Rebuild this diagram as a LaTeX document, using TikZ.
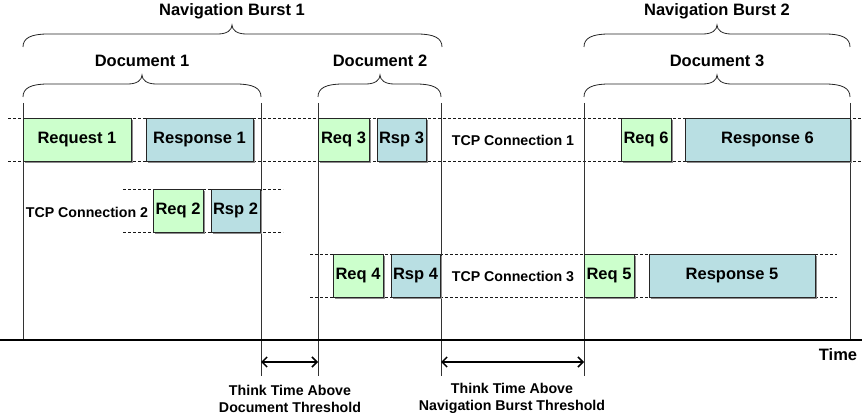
\documentclass[tikz,border=0pt]{standalone}
\usepackage{fontspec}
\setmainfont{Liberation Sans}
\usetikzlibrary{shadows,arrows.meta}

\definecolor{reqfill}{HTML}{CCFFCC}
\definecolor{rspfill}{HTML}{B9DFE3}

\tikzset{
  box/.style={draw=black!85, line width=0.8pt, inner sep=0pt, minimum height=43pt,
    font=\fontsize{16.5}{18}\selectfont\bfseries,
    drop shadow={shadow xshift=2pt, shadow yshift=-2pt, fill=black!45, opacity=1}},
  reqbox/.style={box, fill=reqfill},
  rspbox/.style={box, fill=rspfill},
  bigtext/.style={font=\fontsize{16.5}{18}\selectfont\bfseries, inner sep=0pt},
  smalltext/.style={font=\fontsize{14.2}{17}\selectfont\bfseries, inner sep=0pt, align=center},
  conn/.style={dashed, dash pattern=on 3pt off 2pt, line width=0.9pt, black!90},
  boundary/.style={line width=0.7pt, black!80},
  gap/.style={line width=1.5pt, {Straight Barb[length=5pt,width=10pt]}-{Straight Barb[length=5pt,width=10pt]}},
  curly/.style={line width=0.8pt, black!85}
}

% horizontal curly brace: left x, right x, tip x, y of the ends
\newcommand{\hbrace}[4]{%
  \draw[curly] (#1,#4) .. controls (#1,#4-9) and (#1+8,#4-13) .. (#1+25,#4-13)
    -- (#3-14,#4-13) .. controls (#3-5,#4-13) and (#3,#4-17) .. (#3,#4-22)
    .. controls (#3,#4-17) and (#3+5,#4-13) .. (#3+14,#4-13)
    -- (#2-25,#4-13) .. controls (#2-8,#4-13) and (#2,#4-9) .. (#2,#4);}

\begin{document}
\begin{tikzpicture}[x=1pt,y=-1pt]
\useasboundingbox (0,0) rectangle (862,419);

% brace headings
\node[bigtext] (nb1) at (232,11) {Navigation Burst 1};
\node[bigtext] (nb2) at (717,11) {Navigation Burst 2};
\node[bigtext] (d1) at (142,61) {Document 1};
\node[bigtext] (d2) at (380,61) {Document 2};
\node[bigtext] (d3) at (717,61) {Document 3};

\hbrace{23}{442}{232}{47}
\hbrace{584}{850}{717}{47}
\hbrace{23}{261}{142}{97}
\hbrace{318}{441}{380}{97}
\hbrace{584}{850}{717}{97}

% connection lanes
\draw[conn] (8,118) -- (862,118);
\draw[conn] (8,161) -- (862,161);
\draw[conn] (123,189) -- (283,189);
\draw[conn] (123,232) -- (283,232);
\draw[conn] (310,254) -- (837,254);
\draw[conn] (310,297) -- (837,297);

% boundary markers
\draw[boundary] (23,103) -- (23,340);
\draw[boundary] (261,103) -- (261,376);
\draw[boundary] (318,103) -- (318,376);
\draw[boundary] (441,103) -- (441,376);
\draw[boundary] (584,103) -- (584,376);
\draw[boundary] (850,103) -- (850,340);

% requests and responses
\node[reqbox, minimum width=108pt] (q1) at (77,139.5) {Request 1};
\node[rspbox, minimum width=107pt] (s1) at (199.5,139.5) {Response 1};
\node[reqbox, minimum width=51pt] (q3) at (343.5,139.5) {Req 3};
\node[rspbox, minimum width=49pt] (s3) at (401.5,139.5) {Rsp 3};
\node[reqbox, minimum width=50pt] (q6) at (646,139.5) {Req 6};
\node[rspbox, minimum width=165pt] (s6) at (767.5,139.5) {Response 6};
\node[reqbox, minimum width=50pt] (q2) at (178,210.5) {Req 2};
\node[rspbox, minimum width=49pt] (s2) at (235.5,210.5) {Rsp 2};
\node[reqbox, minimum width=50pt] (q4) at (358,275.5) {Req 4};
\node[rspbox, minimum width=49pt] (s4) at (415.5,275.5) {Rsp 4};
\node[reqbox, minimum width=50pt] (q5) at (609,275.5) {Req 5};
\node[rspbox, minimum width=166pt] (s5) at (732,275.5) {Response 5};

% connection names
\node[smalltext] (c1) at (513,140) {TCP Connection 1};
\node[smalltext] (c2) at (87,212) {TCP Connection 2};
\node[smalltext] (c3) at (513,276) {TCP Connection 3};

% time axis
\draw[line width=2pt] (0,340) -- (862,340);
\node[bigtext] (time) at (838,355) {Time};

% think time gaps
\coordinate (g1a) at (261,362);
\coordinate (g1b) at (318,362);
\coordinate (g2a) at (441,362);
\coordinate (g2b) at (584,362);
\draw[gap] (g1a) -- (g1b);
\draw[gap] (g2a) -- (g2b);
\node[smalltext] (t1) at (290,398.5) {Think Time Above\\Document Threshold};
\node[smalltext] (t2) at (512,398.5) {Think Time Above\\Navigation Burst Threshold};
\end{tikzpicture}
\end{document}
